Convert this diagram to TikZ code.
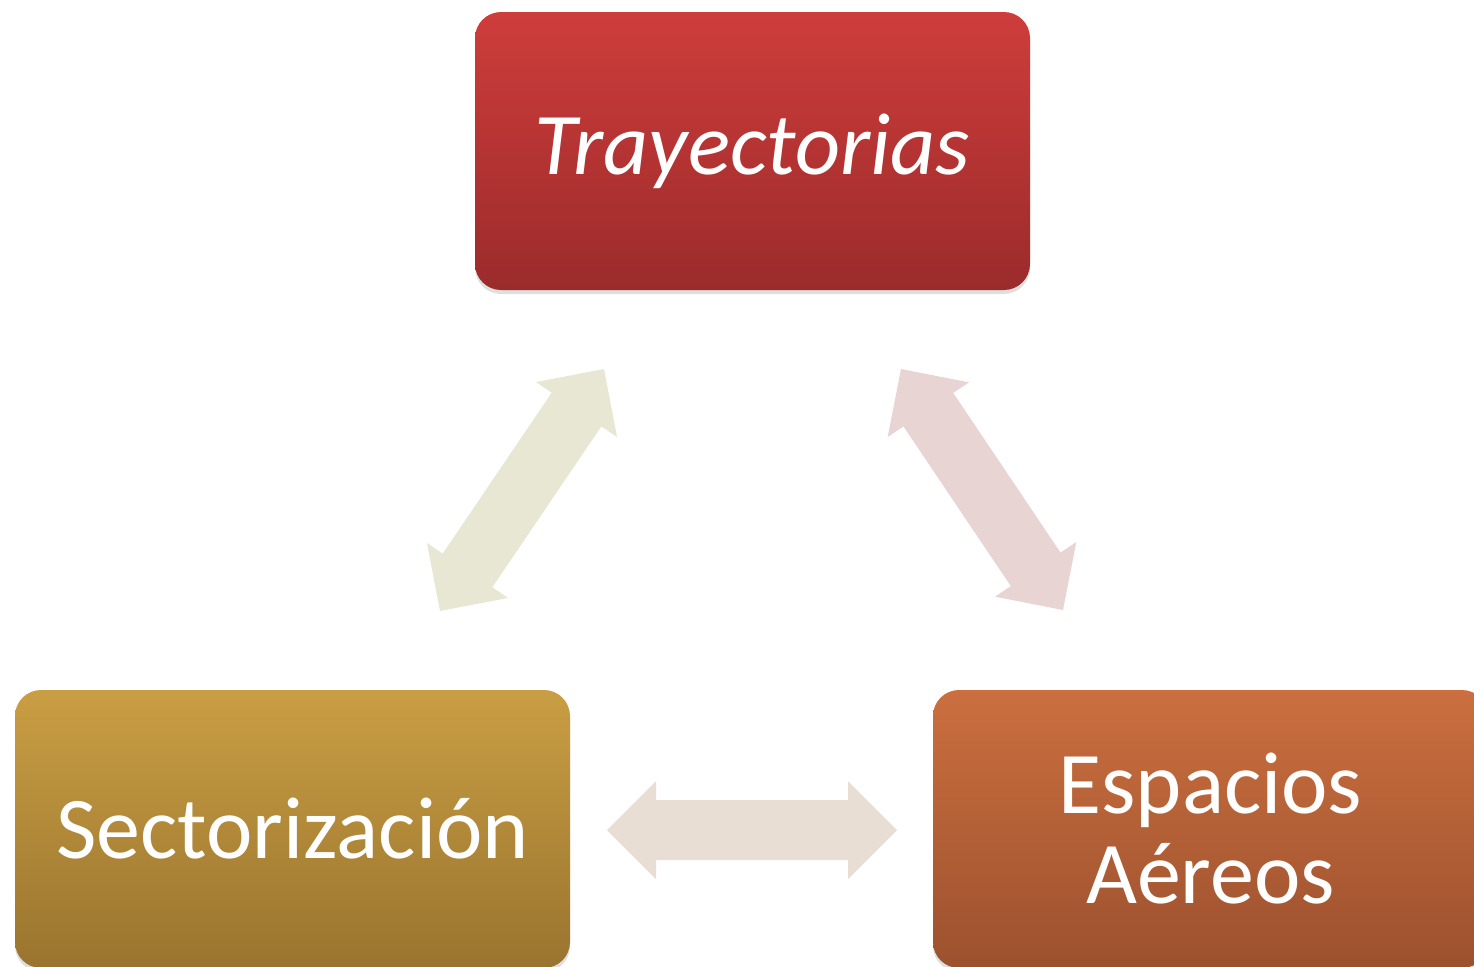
\documentclass[tikz,border=0pt]{standalone}
\usepackage{fontspec}
\setmainfont{Carlito}
\usepackage{xcolor}
\usetikzlibrary{calc,shadows}

\definecolor{trajtop}{HTML}{CE3D3B}
\definecolor{trajbot}{HTML}{9B2B2B}
\definecolor{sectop}{HTML}{C99E43}
\definecolor{secbot}{HTML}{9A742F}
\definecolor{esptop}{HTML}{CB6F3F}
\definecolor{espbot}{HTML}{9C512E}
\definecolor{arrgreen}{HTML}{E7E7D4}
\definecolor{arrpink}{HTML}{E9D4D4}
\definecolor{arrsand}{HTML}{E8DED4}

\tikzset{
  box/.style={rounded corners=13pt, minimum width=277.5pt, minimum height=139pt,
    text=white, align=center, font=\fontsize{44pt}{45pt}\selectfont,
    drop shadow={opacity=0.25, shadow xshift=0pt, shadow yshift=-2pt}},
  blockarrow/.style={fill=#1, draw=none, to path={
    -- ($(\tikztostart)!24.5pt!(\tikztotarget)!24.5pt!90:(\tikztotarget)$)
    -- ($(\tikztostart)!24.5pt!(\tikztotarget)!15pt!90:(\tikztotarget)$)
    -- ($(\tikztotarget)!24.5pt!(\tikztostart)!15pt!-90:(\tikztostart)$)
    -- ($(\tikztotarget)!24.5pt!(\tikztostart)!24.5pt!-90:(\tikztostart)$)
    -- (\tikztotarget)
    -- ($(\tikztotarget)!24.5pt!(\tikztostart)!24.5pt!90:(\tikztostart)$)
    -- ($(\tikztotarget)!24.5pt!(\tikztostart)!15pt!90:(\tikztostart)$)
    -- ($(\tikztostart)!24.5pt!(\tikztotarget)!15pt!-90:(\tikztotarget)$)
    -- ($(\tikztostart)!24.5pt!(\tikztotarget)!24.5pt!-90:(\tikztotarget)$)
    -- cycle}},
}

\begin{document}
\begin{tikzpicture}[x=0.5pt, y=-0.5pt]
    \useasboundingbox (0,0) rectangle (1474,966);

    \node[box, top color=trajtop, bottom color=trajbot, font=\fontsize{44pt}{45pt}\selectfont\itshape] (traj) at (752.5,151) {Trayectorias};
    \node[box, top color=sectop, bottom color=secbot] (sect) at (292.5,829) {Sectorización};
    \node[box, top color=esptop, bottom color=espbot] (esp) at (1210.5,829) {Espacios\\Aéreos};

    \coordinate (ts) at (604,369);
    \coordinate (st) at (440,611);
    \coordinate (te) at (901,369);
    \coordinate (et) at (1063,610);
    \coordinate (se) at (607,830);
    \coordinate (es) at (897,830);

    \path[blockarrow=arrgreen] (st) to (ts);
    \path[blockarrow=arrpink] (te) to (et);
    \path[blockarrow=arrsand] (se) to (es);
\end{tikzpicture}
\end{document}
